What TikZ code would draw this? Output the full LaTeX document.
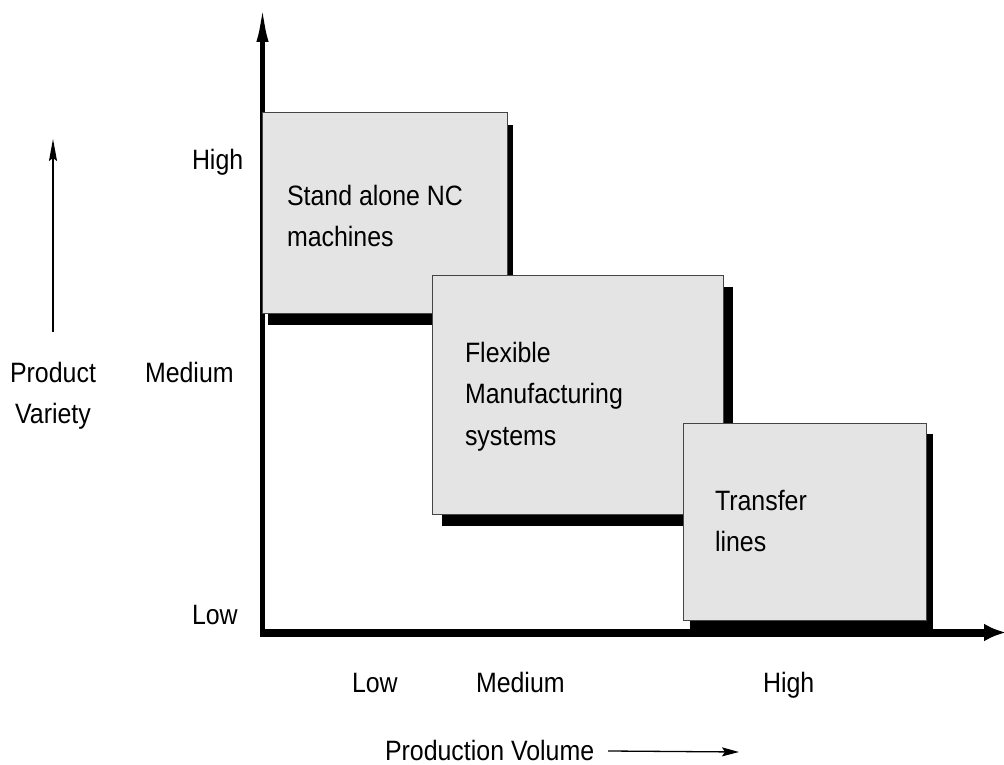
\documentclass[tikz,border=0pt]{standalone}
\usepackage{fontspec}
\setmainfont{Liberation Sans}[FakeStretch=0.89]
\usetikzlibrary{arrows.meta,shadows}
\definecolor{boxfill}{HTML}{E4E4E4}
\definecolor{boxline}{HTML}{454545}
\begin{document}
\begin{tikzpicture}[x=1pt,y=-1pt,
  lbl/.style={inner sep=0pt, outer sep=0pt, font=\fontsize{28}{41.5}\selectfont},
  lblw/.style={lbl, anchor=base west},
  panel/.style={draw=boxline, line width=1pt, fill=boxfill, anchor=north west,
    inner sep=0pt, outer sep=0pt},
  shad/.style 2 args={drop shadow={shadow xshift=#1pt, shadow yshift=-#2pt, fill=black, opacity=1, draw=none}},
  yaxis/.style={line width=5pt, -{Latex[length=40pt,width=12pt]}},
  xaxis/.style={line width=8pt, -{Latex[length=22pt,width=18pt]}},
  thinarrow/.style={line width=1.3pt, -{Stealth[length=22pt,width=8pt,inset=3pt]}},
]
\useasboundingbox (0,0) rectangle (1004,765);

% axes
\coordinate (origin) at (262.5,636.5);
\coordinate (xstart) at (260,632.5);
\coordinate (ytip) at (262.5,2);
\coordinate (xtip) at (1006,632.5);
\draw[yaxis] (origin) -- (ytip);
\draw[xaxis] (xstart) -- (xtip);

% boxes
\node[panel, shad={6}{12}, minimum width=245pt, minimum height=200pt] (b1) at (262,113) {};
\node[panel, shad={10}{12}, minimum width=291pt, minimum height=239pt] (b2) at (432,275) {};
\node[panel, shad={7}{11}, minimum width=243pt, minimum height=197pt] (b3) at (683,423) {};

% box texts
\node[lblw] (t1) at (287,205) {\begin{tabular}[t]{@{}l@{}}Stand alone NC\\machines\end{tabular}};
\node[lblw] (t2) at (465,362) {\begin{tabular}[t]{@{}l@{}}Flexible\\Manufacturing\\systems\end{tabular}};
\node[lblw] (t3) at (715,510) {\begin{tabular}[t]{@{}l@{}}Transfer\\lines\end{tabular}};

% y labels
\node[lblw] (yhigh) at (192,170) {High};
\node[lblw] (ymed) at (145,382) {Medium};
\node[lblw] (ylow) at (192,624) {Low};
\node[lbl, anchor=base] (pv) at (53,382) {\begin{tabular}[t]{@{}c@{}}Product\\Variety\end{tabular}};
\coordinate (pvtail) at (53,332);
\coordinate (pvtip) at (53,139);
\draw[thinarrow] (pvtail) -- (pvtip);

% x labels
\node[lblw] (xlow) at (352,692) {Low};
\node[lblw] (xmed) at (476,692) {Medium};
\node[lblw] (xhigh) at (763,692) {High};
\node[lblw] (prodvol) at (385,760) {Production Volume};
\coordinate (vtip) at (739,752);
\draw[thinarrow, -{Stealth[length=17pt,width=9pt,inset=3pt]}] ([xshift=14pt,yshift=-1pt]prodvol.east) -- (vtip);
\end{tikzpicture}
\end{document}
